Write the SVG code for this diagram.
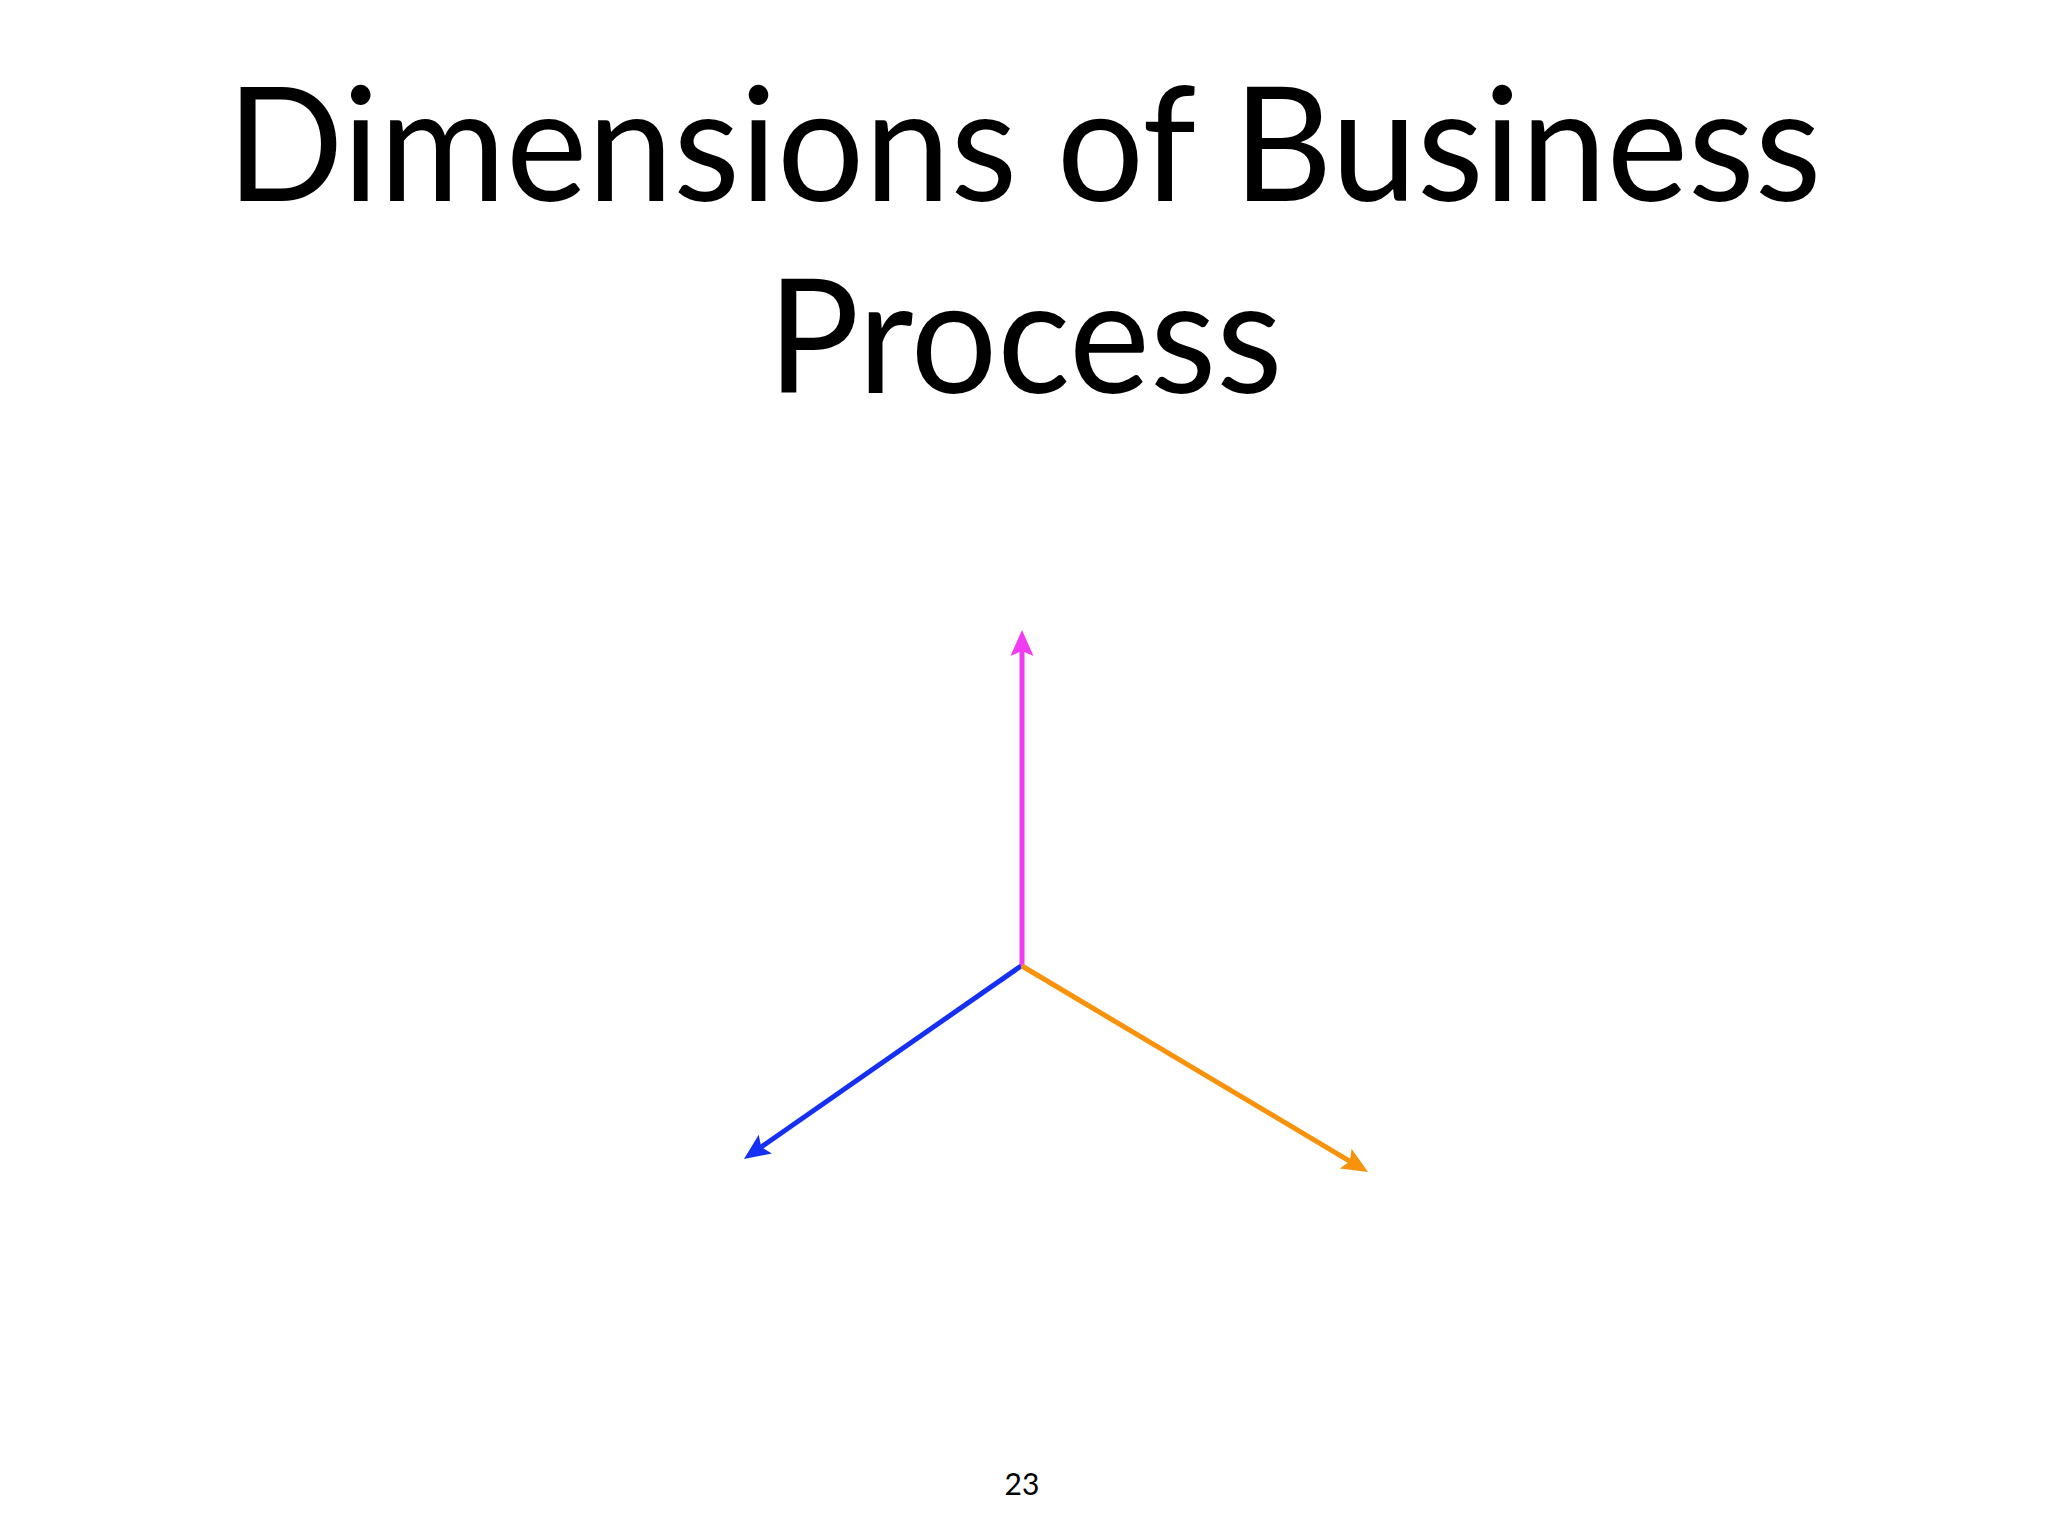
<svg xmlns="http://www.w3.org/2000/svg" width="2048" height="1536" viewBox="0 0 2048 1536">
<style>
.title{font-family:Lato,"Liberation Sans",sans-serif;font-size:160px;fill:#000;text-anchor:middle}
.pg{font-family:Lato,"Liberation Sans",sans-serif;font-size:30px;fill:#000;text-anchor:middle}
.ax{stroke-width:5;fill:none;stroke-linecap:butt}
</style>
<defs>
<marker id="mPink" markerUnits="userSpaceOnUse" markerWidth="40" markerHeight="40" viewBox="-10 -20 40 40" refX="0" refY="0" orient="auto"><path d="M21,0 L-5,-11.5 L0,0 L-5,11.5 Z" fill="#F03CF0"/></marker>
<marker id="mBlue" markerUnits="userSpaceOnUse" markerWidth="40" markerHeight="40" viewBox="-10 -20 40 40" refX="0" refY="0" orient="auto"><path d="M21,0 L-5,-11.5 L0,0 L-5,11.5 Z" fill="#1530F2"/></marker>
<marker id="mOrange" markerUnits="userSpaceOnUse" markerWidth="40" markerHeight="40" viewBox="-10 -20 40 40" refX="0" refY="0" orient="auto"><path d="M21,0 L-5,-11.5 L0,0 L-5,11.5 Z" fill="#F7920A"/></marker>
</defs>
<rect width="2048" height="1536" fill="#fff"/>
<g id="title">
<text class="title" x="1024" y="201" textLength="1595" lengthAdjust="spacingAndGlyphs">Dimensions of Business</text>
<text class="title" x="1025" y="393" textLength="515" lengthAdjust="spacingAndGlyphs">Process</text>
</g>
<g id="connectors">
<line class="ax" x1="1022" y1="966" x2="1022" y2="651" stroke="#F03CF0" marker-end="url(#mPink)"/>
<line class="ax" x1="1021" y1="966" x2="761.2" y2="1147" stroke="#1530F2" marker-end="url(#mBlue)"/>
<line class="ax" x1="1022" y1="966" x2="1350" y2="1161.3" stroke="#F7920A" marker-end="url(#mOrange)"/>
</g>
<g id="page-number">
<text class="pg" x="1022" y="1495">23</text>
</g>
</svg>
